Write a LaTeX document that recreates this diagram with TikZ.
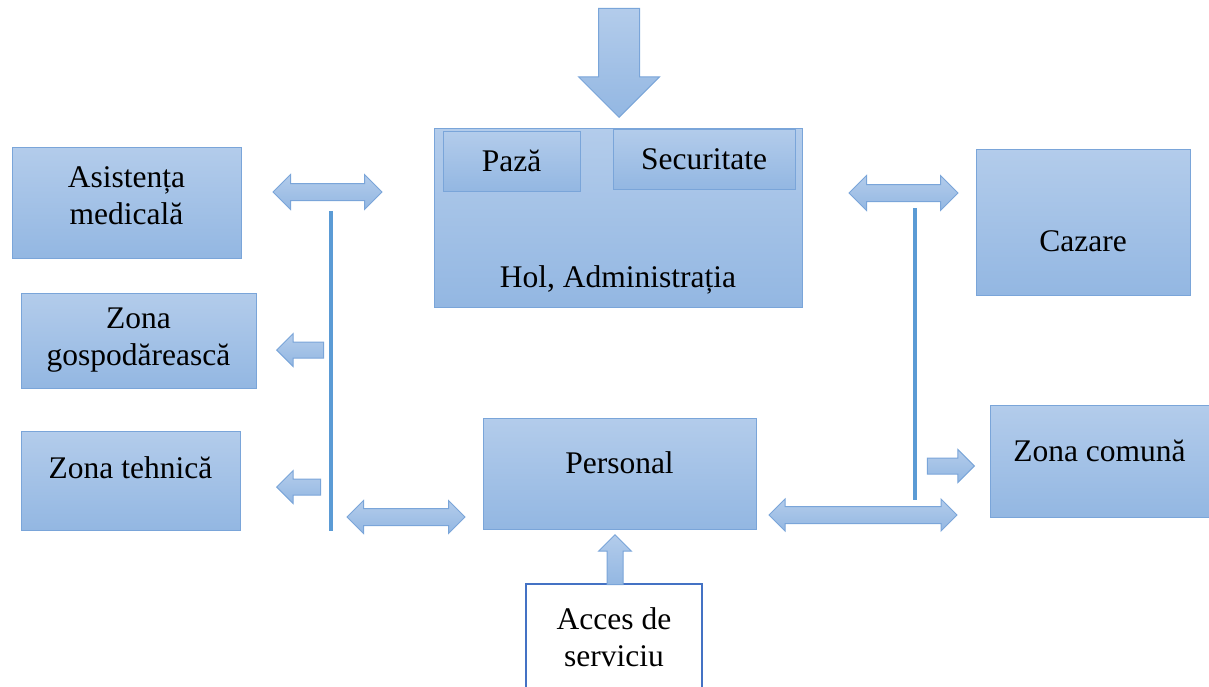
\documentclass[tikz,border=0pt]{standalone}
\usepackage{fontspec}
\setmainfont{Liberation Serif}
\usetikzlibrary{shapes.arrows}

\definecolor{boxtop}{RGB}{179,204,235}
\definecolor{boxbot}{RGB}{147,183,226}
\definecolor{boxline}{RGB}{122,165,217}
\definecolor{linkline}{RGB}{91,155,213}
\definecolor{accline}{RGB}{68,114,196}

\begin{document}
\begin{tikzpicture}[
                  x = 1pt,
                  y = -1pt,
  every node/.style = {font=\fontsize{31.5}{37}\selectfont, text=black},
        zone/.style = {draw=boxline, line width=1pt, top color=boxtop, bottom color=boxbot,
                       align=center, inner sep=0pt},
      oneway/.style = {single arrow, draw=boxline, line width=1pt, top color=boxtop, bottom color=boxbot,
                       inner sep=7.5pt, single arrow head extend=8.5pt, anchor=tip},
      twoway/.style = {double arrow, draw=boxline, line width=1pt, top color=boxtop, bottom color=boxbot,
                       inner sep=8pt, double arrow head extend=9pt},
        link/.style = {draw=linkline, line width=3.5pt},
                    ]
    \path[use as bounding box, clip] (0,0) rectangle (1209,686);

    % main hall
    \node[zone, minimum width=368pt, minimum height=179pt] (hol) at (618,217.5) {};
    \node (hollbl) at (618,280) {Hol, Administrația};
    \node[zone, minimum width=137pt, minimum height=60pt] (paza) at (511.5,161) {Pază};
    \node[zone, minimum width=182pt, minimum height=60pt] (secu) at (704,159) {Securitate};

    % left side
    \node[zone, minimum width=229pt, minimum height=111pt, text depth=13pt] (asist) at (126.5,202.5) {Asistența\\medicală};
    \node[zone, minimum width=235pt, minimum height=95pt] (gosp) at (138.5,340.5) {Zona\\gospodărească};
    \node[zone, minimum width=219pt, minimum height=99pt, text depth=25pt] (tehn) at (130.5,480.5) {Zona tehnică};

    % right side
    \node[zone, minimum width=214pt, minimum height=146pt, text height=59.5pt, text depth=0pt] (cazare) at (1083,222) {Cazare};
    \node[zone, minimum width=219pt, minimum height=112pt, text depth=20pt] (comuna) at (1099.5,461) {Zona comună};

    % staff
    \node[zone, minimum width=273pt, minimum height=111pt, text depth=21pt] (pers) at (619.5,473.5) {Personal};
    \node[draw=accline, line width=1.5pt, fill=white, align=center, minimum width=176pt, minimum height=106pt, inner sep=0pt] (acces) at (614,637) {Acces de\\serviciu};

    % block arrows (placed by their tips)
    \node[oneway, shape border rotate=270, minimum height=109pt, inner sep=20pt, single arrow head extend=20pt] (entry) at (619,118) {};
    \node[oneway, shape border rotate=90, minimum height=50pt] (accup) at (615,534) {};
    \node[oneway, shape border rotate=180, minimum height=47pt] (togosp) at (276,350) {};
    \node[oneway, shape border rotate=180, minimum height=44pt] (totehn) at (276,487) {};
    \node[oneway, minimum height=47pt] (tocom) at (975,466) {};
    \node[twoway, minimum height=109pt] (lefttop) at (327.5,192) {};
    \node[twoway, minimum height=109pt] (righttop) at (903.5,193) {};
    \node[twoway, minimum height=118pt, double arrow head extend=8pt] (leftbot) at (406,517) {};
    \node[twoway, minimum height=188pt, double arrow head extend=7.5pt] (rightbot) at (863,515) {};

    % distribution lines
    \coordinate (lt) at (331,211);
    \coordinate (lb) at (331,531);
    \coordinate (rt) at (915,208);
    \coordinate (rb) at (915,500);
    \draw[link] (lt) -- (lb);
    \draw[link] (rt) -- (rb);
\end{tikzpicture}
\end{document}
